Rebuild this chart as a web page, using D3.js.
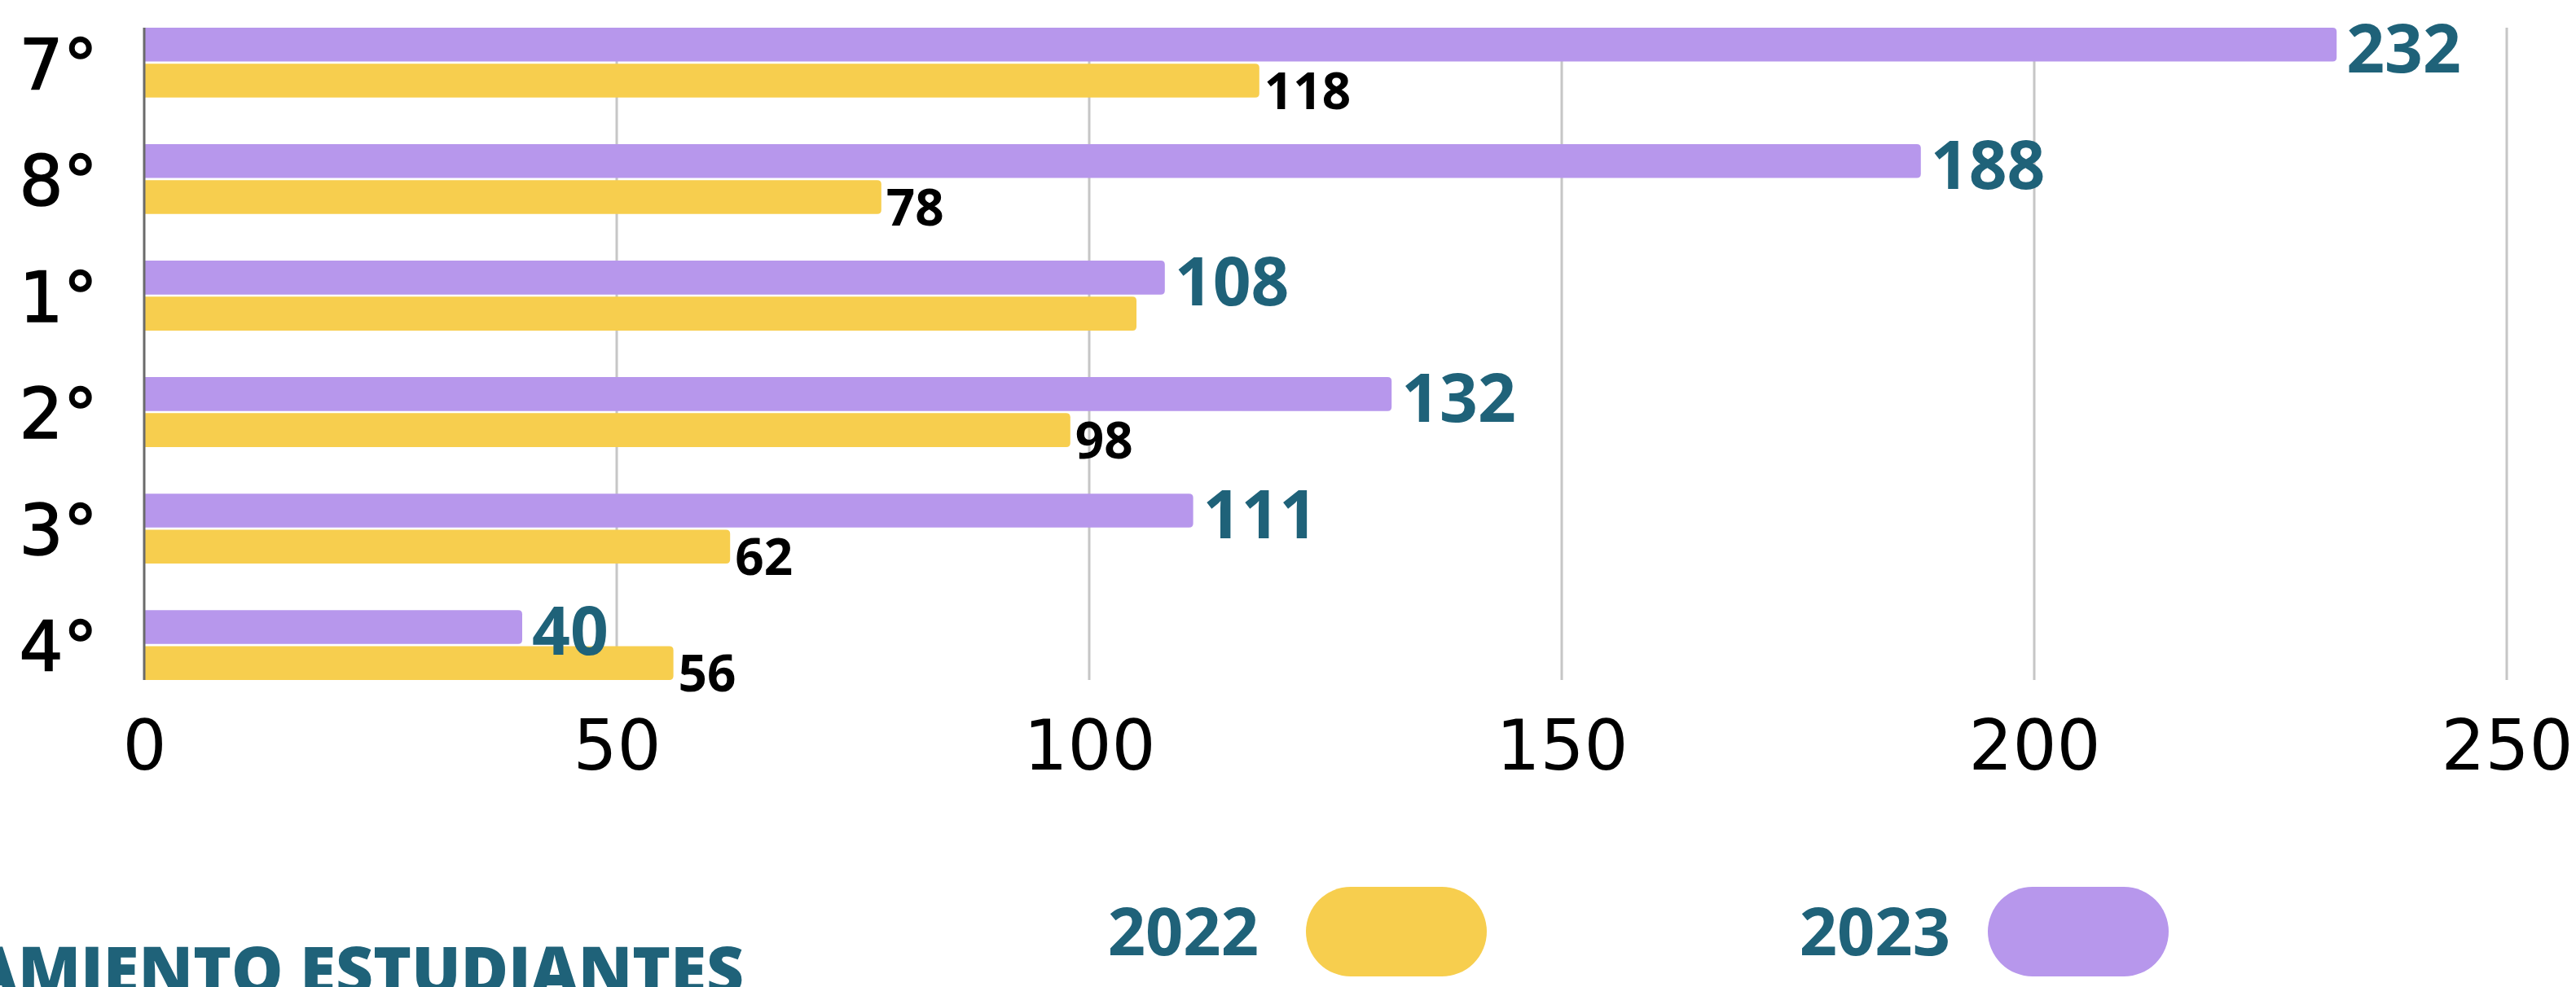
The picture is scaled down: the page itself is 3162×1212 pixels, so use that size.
<!DOCTYPE html>
<html><head><meta charset="utf-8">
<script src="https://cdn.jsdelivr.net/npm/d3@7"></script>
<style>html,body{margin:0;padding:0;background:#fff;overflow:hidden}</style>
</head><body>
<svg id="chart" width="3162" height="1212"></svg>
<script>
const categories = ["7°", "8°", "1°", "2°", "3°", "4°"];
const values2023 = [232, 188, 108, 132, 111, 40];
const values2022 = [118, 78, 105, 98, 62, 56];
const labels2022 = ["118", "78", "", "98", "62", "56"];
const seriesNames = ["2023", "2022"];
const xTicks = [0, 50, 100, 150, 200, 250];
const titleText = "AMIENTO ESTUDIANTES";

const C_PURPLE = "#b797ec", C_YELLOW = "#f7ce4e", C_TEAL = "#1f6279";
const svg = d3.select("#chart");

const x = d3.scaleLinear().domain([0, 250]).range([177, 3077]);
const y = d3.scaleBand().domain(categories).range([34, 835]).paddingInner(0.4).paddingOuter(0);
const ys = d3.scaleBand().domain(seriesNames).range([0, y.bandwidth()]).paddingInner(0.06);

// gridlines
svg.append("g").selectAll("line").data(xTicks.filter(d => d > 0)).join("line")
  .attr("x1", d => x(d)).attr("x2", d => x(d))
  .attr("y1", 34).attr("y2", 835)
  .attr("stroke", "#c6c6c6").attr("stroke-width", 3);

// x axis labels
const xAxis = d3.axisBottom(x).tickValues(xTicks).tickSize(0).tickPadding(0);
const gx = svg.append("g").attr("transform", "translate(0,945)").call(xAxis);
gx.select(".domain").remove();
gx.selectAll("text").attr("dy", 0).attr("y", 0)
  .attr("font-family", "DejaVu Sans").attr("font-size", 85).attr("font-weight", 400).attr("fill", "#000");

// category labels
const yAxis = d3.axisLeft(y).tickSize(0).tickPadding(0);
const gy = svg.append("g").attr("transform", "translate(120,0)").call(yAxis);
gy.select(".domain").remove();
gy.selectAll("text").attr("dy", "0.38em").attr("x", 0)
  .attr("font-family", "DejaVu Sans").attr("font-size", 85).attr("font-weight", 400)
  .attr("fill", "#000").attr("stroke", "#000").attr("stroke-width", 1.6);

const rows = categories.map((c, i) => ({c, v23: values2023[i], v22: values2022[i], l22: labels2022[i]}));

function barPath(x0, x1, y0, h, r) {
  const w = x1 - x0;
  r = Math.min(r, w / 2, h / 2);
  return `M${x0},${y0}H${x1 - r}Q${x1},${y0} ${x1},${y0 + r}V${y0 + h - r}Q${x1},${y0 + h} ${x1 - r},${y0 + h}H${x0}Z`;
}

const g = svg.append("g");
g.selectAll("path.p23").data(rows).join("path").attr("class", "p23")
  .attr("d", d => barPath(x(0), x(d.v23), y(d.c) + ys("2023"), ys.bandwidth(), 5))
  .attr("fill", C_PURPLE);
g.selectAll("path.p22").data(rows).join("path").attr("class", "p22")
  .attr("d", d => barPath(x(0), x(d.v22), y(d.c) + ys("2022"), ys.bandwidth(), 5))
  .attr("fill", C_YELLOW);

// y axis line
svg.append("line").attr("x1", x(0)).attr("x2", x(0)).attr("y1", 34).attr("y2", 835)
  .attr("stroke", "#6b6b6b").attr("stroke-width", 3);

// value labels
g.selectAll("text.l23").data(rows).join("text").attr("class", "l23")
  .attr("x", d => x(d.v23) + 12)
  .attr("y", d => y(d.c) + ys("2023") + ys.bandwidth() + 13)
  .attr("font-family", "Open Sans").attr("font-weight", 700).attr("font-size", 82)
  .attr("fill", C_TEAL).text(d => d.v23);
g.selectAll("text.l22").data(rows).join("text").attr("class", "l22")
  .attr("x", d => x(d.v22) + 6)
  .attr("y", d => y(d.c) + ys("2022") + ys.bandwidth() + 14)
  .attr("font-family", "Open Sans").attr("font-weight", 700).attr("font-size", 62)
  .attr("fill", "#000").text(d => d.l22);

// legend
const legend = [
  {name: "2022", color: C_YELLOW, tx: 1545, px: 1603},
  {name: "2023", color: C_PURPLE, tx: 2394, px: 2440}
];
const lg = svg.append("g");
lg.selectAll("rect").data(legend).join("rect")
  .attr("x", d => d.px).attr("y", 1089).attr("width", 222).attr("height", 110)
  .attr("rx", 55).attr("ry", 55).attr("fill", d => d.color);
lg.selectAll("text").data(legend).join("text")
  .attr("x", d => d.tx).attr("y", 1173).attr("text-anchor", "end")
  .attr("font-family", "Open Sans").attr("font-weight", 700).attr("font-size", 81)
  .attr("fill", C_TEAL).text(d => d.name);

// title (clipped at the page edge, as in the reference)
svg.append("text").attr("x", -36).attr("y", 1221)
  .attr("textLength", 949).attr("lengthAdjust", "spacingAndGlyphs")
  .attr("font-family", "Open Sans").attr("font-weight", 800).attr("font-size", 82)
  .attr("fill", C_TEAL).text(titleText);
</script>
</body></html>
